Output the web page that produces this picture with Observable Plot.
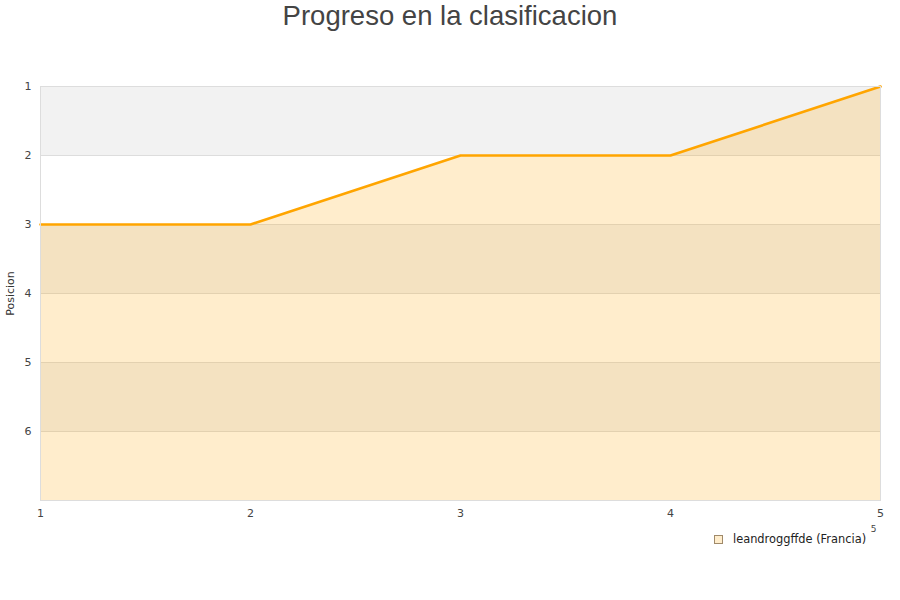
<!DOCTYPE html>
<html>
<head>
<meta charset="utf-8">
<script src="https://cdn.jsdelivr.net/npm/d3@7"></script>
<script src="https://cdn.jsdelivr.net/npm/@observablehq/plot@0.6"></script>
<style>
  html, body { margin: 0; padding: 0; background: #fff; }
  #wrap { position: relative; width: 900px; height: 600px; }
  #title { position: absolute; left: 0; top: 0; width: 900px; text-align: center;
           font-family: "Liberation Sans", Arial, sans-serif; font-size: 27.5px; color: #444; line-height: 32px; }
  #legend { position: absolute; left: 714px; top: 532px; font-family: "DejaVu Sans", sans-serif;
            font-size: 11.4px; color: #222; display: flex; align-items: center; }
  #legend .sw { width: 7px; height: 7px; border: 1px solid #a08a6a; background: #ffedcc; margin-right: 10px; }
  #chart { position: absolute; left: 0; top: 0; }
</style>
</head>
<body>
<div id="wrap">
  <div id="chart"></div>
  <div id="title">Progreso en la clasificacion</div>
  <div id="legend"><div class="sw"></div><span>leandroggffde (Francia)</span></div>
</div>
<script>
const jornadas = [1, 2, 3, 4, 5];
const posiciones = [3, 3, 2, 2, 1];
const yTicks = [1, 2, 3, 4, 5, 6];
const serieNombre = "leandroggffde (Francia)";
const bandas = [[1, 2], [3, 4], [5, 6]];

const data = jornadas.map((j, i) => ({x: j, pos: posiciones[i]}));
const bandData = bandas.map(([a, b]) => ({a, b}));

const chart = Plot.plot({
  width: 900,
  height: 600,
  marginTop: 86,
  marginBottom: 100,
  marginLeft: 40,
  marginRight: 20,
  style: {fontFamily: "'DejaVu Sans', sans-serif", fontSize: "11px", color: "#444", background: "transparent"},
  x: {domain: [1, 5], ticks: jornadas, tickFormat: d3.format("d"), tickSize: 0, tickPadding: 9, label: null},
  y: {domain: [1, 7], reverse: true, ticks: yTicks, tickFormat: d3.format("d"), tickSize: 0, tickPadding: 9, label: null},
  marks: [
    Plot.rect(bandData, {x1: 1, x2: 5, y1: "a", y2: "b", fill: "#f2f2f2"}),
    Plot.ruleY([2, 3, 4, 5, 6], {stroke: "#dddddd", strokeWidth: 1}),
    Plot.area(data, {x1: "x", y1: 7, y2: "pos", fill: "orange", fillOpacity: 0.2}),
    Plot.line(data, {x: "x", y: "pos", stroke: "orange", strokeWidth: 2.6}),
    Plot.frame({stroke: "#dddddd"}),
    Plot.axisY({ticks: yTicks, tickFormat: d3.format("d"), tickSize: 0, tickPadding: 9, label: null}),
    Plot.axisX({ticks: jornadas, tickFormat: d3.format("d"), tickSize: 0, tickPadding: 9, label: null}),
    Plot.text(["Posicion"], {frameAnchor: "left", textAnchor: "middle", dx: -30, rotate: -90, fontSize: 11, fill: "#333"}),
    Plot.text(["5"], {frameAnchor: "bottom-right", dx: -4, dy: 31, fontSize: 9, fill: "#444"})
  ]
});
document.getElementById("chart").appendChild(chart);
</script>
</body>
</html>
